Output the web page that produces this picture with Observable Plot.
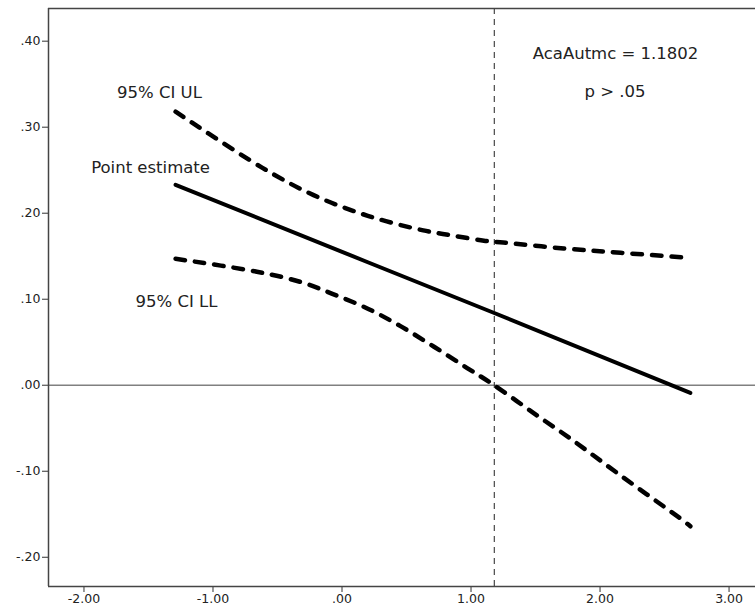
<!DOCTYPE html>
<html>
<head>
<meta charset="utf-8">
<script src="https://cdn.jsdelivr.net/npm/d3@7"></script>
<script src="https://cdn.jsdelivr.net/npm/@observablehq/plot@0.6"></script>
<style>
  html, body { margin: 0; padding: 0; background: #fff; }
  #chart svg { display: block; }
</style>
</head>
<body>
<div id="chart"></div>
<script>
// ---- Data ----
const pointX = [-1.29, 0.20, 1.18, 2.70];
const pointY = [0.233, 0.143, 0.084, -0.009];

const ulX = [-1.29, -0.62, -0.22, 0.20, 0.63, 0.86, 1.10, 1.25, 1.72, 2.16, 2.70];
const ulY = [0.318, 0.253, 0.221, 0.197, 0.180, 0.174, 0.168, 0.166, 0.159, 0.154, 0.148];

const llX = [-1.29, -0.66, -0.32, -0.07, 0.20, 0.45, 0.71, 0.97, 1.15, 1.52, 1.77, 2.16, 2.65, 2.70];
const llY = [0.147, 0.132, 0.120, 0.106, 0.089, 0.069, 0.045, 0.020, 0.003, -0.036, -0.062, -0.105, -0.158, -0.164];

const moderatorValue = 1.1802;
const xTicks = [-2, -1, 0, 1, 2, 3];
const yTicks = [-0.2, -0.1, 0, 0.1, 0.2, 0.3, 0.4];
const xDomain = [-2.275, 3.205];
const yDomain = [-0.234, 0.438];

const labelText = ["95% CI UL", "Point estimate", "95% CI LL", "AcaAutmc = 1.1802", "p > .05"];
const labelX = [-1.415, -1.484, -1.283, 2.12, 2.116];
const labelY = [0.340, 0.253, 0.097, 0.386, 0.341];

// ---- Build tables ----
const pointData = pointX.map((x, i) => ({x, y: pointY[i]}));
const ulData = ulX.map((x, i) => ({x, y: ulY[i]}));
const llData = llX.map((x, i) => ({x, y: llY[i]}));
const labels = labelText.map((t, i) => ({t, x: labelX[i], y: labelY[i]}));

const fmt = d => d3.format(".2f")(d).replace(/\u2212/g, "-").replace(/^(-?)0\./, "$1.");
const font = "'DejaVu Sans', 'Lucida Grande', sans-serif";

const chart = Plot.plot({
  width: 755,
  height: 612,
  marginLeft: 48,
  marginTop: 8,
  marginRight: 0,
  marginBottom: 26,
  x: {domain: xDomain},
  y: {domain: yDomain},
  style: {fontFamily: font, fontSize: "12.5px", color: "#222", background: "#fff"},
  marks: [
    Plot.ruleY([0], {stroke: "#808080", strokeWidth: 1.5}),
    Plot.ruleX([moderatorValue], {stroke: "#222", strokeWidth: 1, strokeDasharray: "6,5"}),
    Plot.line(ulData, {x: "x", y: "y", stroke: "#000", strokeWidth: 4.5, strokeDasharray: "9.5,10", curve: "catmull-rom"}),
    Plot.line(llData, {x: "x", y: "y", stroke: "#000", strokeWidth: 4.5, strokeDasharray: "9.5,10", curve: "catmull-rom"}),
    Plot.line(pointData, {x: "x", y: "y", stroke: "#000", strokeWidth: 4, curve: "linear"}),
    Plot.text(labels, {x: "x", y: "y", text: "t", fontSize: 16.5, fill: "#222", textAnchor: "middle"}),
    Plot.axisX({ticks: xTicks, tickFormat: fmt, tickSize: 6, tickPadding: 2, fontSize: 12.5, label: null, stroke: "#333"}),
    Plot.axisY({ticks: yTicks, tickFormat: fmt, tickSize: 6, tickPadding: 2, fontSize: 12.5, label: null, stroke: "#333"}),
    Plot.ruleX([xDomain[0]], {stroke: "#444", strokeWidth: 1.5}),
    Plot.ruleY([yDomain[0]], {stroke: "#444", strokeWidth: 1.5}),
    Plot.ruleY([yDomain[1]], {stroke: "#444", strokeWidth: 1.5})
  ]
});
document.getElementById("chart").appendChild(chart);
</script>
</body>
</html>
